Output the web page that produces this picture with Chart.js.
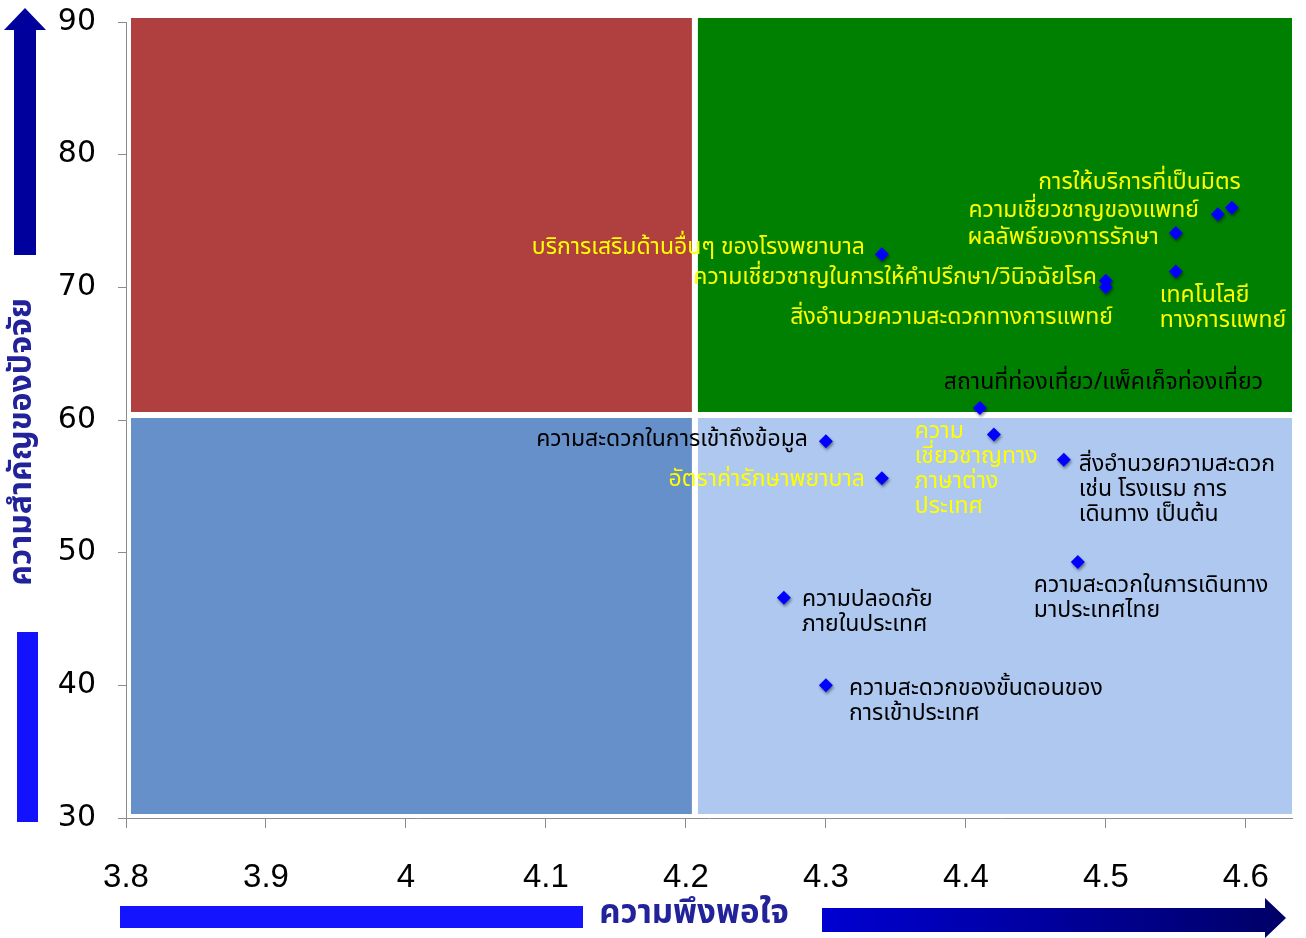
<!DOCTYPE html>
<html>
<head>
<meta charset="utf-8">
<script src="https://cdn.jsdelivr.net/npm/chart.js@4.4.0/dist/chart.umd.min.js"></script>
<style>
  html, body { margin: 0; padding: 0; background: #fff; }
  #wrap { width: 1306px; height: 938px; }
</style>
</head>
<body>
<div id="wrap"><canvas id="chart1"></canvas></div>
<script>
// ข้อมูลปัจจัย (ความพึงพอใจ x ความสำคัญ)
var factors = [
  'การให้บริการที่เป็นมิตร',
  'ความเชี่ยวชาญของแพทย์',
  'ผลลัพธ์ของการรักษา',
  'บริการเสริมด้านอื่นๆ ของโรงพยาบาล',
  'เทคโนโลยี\nทางการแพทย์',
  'ความเชี่ยวชาญในการให้คำปรึกษา/วินิจฉัยโรค',
  'สิ่งอำนวยความสะดวกทางการแพทย์',
  'สถานที่ท่องเที่ยว/แพ็คเก็จท่องเที่ยว',
  'ความ\nเชี่ยวชาญทาง\nภาษาต่าง\nประเทศ',
  'ความสะดวกในการเข้าถึงข้อมูล',
  'อัตราค่ารักษาพยาบาล',
  'สิ่งอำนวยความสะดวก\nเช่น โรงแรม การ\nเดินทาง เป็นต้น',
  'ความสะดวกในการเดินทาง\nมาประเทศไทย',
  'ความปลอดภัย\nภายในประเทศ',
  'ความสะดวกของขั้นตอนของ\nการเข้าประเทศ'
];
var satisfaction = [4.59, 4.58, 4.55, 4.34, 4.55, 4.50, 4.50, 4.41, 4.42, 4.30, 4.34, 4.47, 4.48, 4.27, 4.30];
var importance   = [76.0, 75.5, 74.1, 72.5, 71.2, 70.5, 70.0, 60.9, 58.9, 58.4, 55.6, 57.0, 49.3, 46.6, 40.0];

var xTicks = [3.8, 3.9, 4.0, 4.1, 4.2, 4.3, 4.4, 4.5, 4.6];
var yTicks = [30, 40, 50, 60, 70, 80, 90];

// เส้นแบ่งควอดแรนต์
var splitX = 4.2;
var splitY = 60;

// การวางป้ายชื่อ (สี, การจัดแนว, ระยะเลื่อนจากจุด)
var labelColor = ['#ffff00', '#ffff00', '#ffff00', '#ffff00', '#ffff00', '#ffff00', '#ffff00', '#000000',
                  '#ffff00', '#000000', '#ffff00', '#000000', '#000000', '#000000', '#000000'];
var labelAlign = ['right', 'right', 'right', 'right', 'left', 'right', 'right', 'left',
                  'left', 'right', 'right', 'left', 'left', 'left', 'left'];
var labelShift = [[9, -23], [-19, -2], [-17, 6], [-17, -5], [-16, 26], [-9, -1], [7, 32], [-36, -24],
                  [-79, -1], [-18, 0], [-17, 3], [15, 7], [-44, 25], [18, 4], [23, 5]];

var thaiFont = 'Tahoma, "Noto Sans Thai", "Noto Sans", "DejaVu Sans", sans-serif';

var points = satisfaction.map(function (v, i) { return { x: v, y: importance[i] }; });

var quadrants = {
  id: 'quadrants',
  beforeDatasetsDraw: function (chart) {
    var c = chart.ctx, a = chart.chartArea;
    var sx = chart.scales.x.getPixelForValue(splitX) + 9;
    var sy = chart.scales.y.getPixelForValue(splitY) - 5;
    c.save();
    c.fillStyle = '#b0403f';
    c.fillRect(a.left + 5, a.top - 4, sx - 3 - (a.left + 5), sy - 3 - (a.top - 4));
    c.fillStyle = '#008000';
    c.fillRect(sx + 3, a.top - 4, a.right - sx - 3, sy - 3 - (a.top - 4));
    c.fillStyle = '#6690ca';
    c.fillRect(a.left + 5, sy + 3, sx - 3 - (a.left + 5), a.bottom - 4 - sy - 3);
    c.fillStyle = '#aec8ef';
    c.fillRect(sx + 3, sy + 3, a.right - sx - 3, a.bottom - 4 - sy - 3);
    c.restore();
  },
  beforeDatasetDraw: function (chart) {
    var c = chart.ctx;
    c.save();
    c.shadowColor = 'rgba(0,0,0,0.45)';
    c.shadowBlur = 3;
    c.shadowOffsetX = 1;
    c.shadowOffsetY = 2;
  },
  afterDatasetDraw: function (chart) {
    chart.ctx.restore();
  }
};

var pointLabels = {
  id: 'pointLabels',
  afterDatasetsDraw: function (chart) {
    var c = chart.ctx;
    var meta = chart.getDatasetMeta(0);
    c.save();
    c.font = '23px ' + thaiFont;
    c.textBaseline = 'middle';
    meta.data.forEach(function (pt, i) {
      var lines = factors[i].split('\n');
      c.fillStyle = labelColor[i];
      c.textAlign = labelAlign[i];
      lines.forEach(function (ln, k) {
        c.fillText(ln, pt.x + labelShift[i][0], pt.y + labelShift[i][1] + k * 25);
      });
    });
    c.restore();
  }
};

// ลูกศรและชื่อแกน
var axisArrows = {
  id: 'axisArrows',
  afterDraw: function (chart) {
    var c = chart.ctx;
    c.save();
    // แกนตั้ง
    c.fillStyle = '#00009c';
    c.beginPath();
    c.moveTo(25, 8); c.lineTo(46, 30); c.lineTo(36, 30); c.lineTo(36, 255);
    c.lineTo(14, 255); c.lineTo(14, 30); c.lineTo(4, 30); c.closePath();
    c.fill();
    c.fillStyle = '#1212ff';
    c.fillRect(17, 632, 21, 190);
    c.translate(25, 442);
    c.rotate(-Math.PI / 2);
    c.font = 'bold 32px ' + thaiFont;
    c.fillStyle = '#22229a';
    c.textAlign = 'center';
    c.textBaseline = 'middle';
    c.fillText('ความสำคัญของปัจจัย', 0, 0);
    c.restore();

    // แกนนอน
    c.save();
    c.fillStyle = '#1414ff';
    c.fillRect(120, 906, 463, 22);
    var g = c.createLinearGradient(822, 0, 1286, 0);
    g.addColorStop(0, '#0000d2');
    g.addColorStop(1, '#000066');
    c.fillStyle = g;
    c.beginPath();
    c.moveTo(822, 908); c.lineTo(1265, 908); c.lineTo(1265, 898); c.lineTo(1286, 918);
    c.lineTo(1265, 938); c.lineTo(1265, 932); c.lineTo(822, 932); c.closePath();
    c.fill();
    c.font = 'bold 33px ' + thaiFont;
    c.fillStyle = '#22229a';
    c.textAlign = 'center';
    c.textBaseline = 'middle';
    c.fillText('ความพึงพอใจ', 694, 916);
    c.restore();
  }
};

function noOverhang(s) {
  s.paddingTop = 0;
  s.paddingBottom = 0;
  s.paddingLeft = 0;
  s.paddingRight = 0;
}

var ctx1 = document.getElementById('chart1').getContext('2d');
var chart1 = new Chart(ctx1, {
  type: 'scatter',
  data: {
    datasets: [{
      label: 'ปัจจัย',
      data: points,
      pointStyle: 'rectRot',
      pointRadius: 7,
      pointHoverRadius: 7,
      backgroundColor: '#0000ff',
      borderColor: '#0000ff',
      borderWidth: 0
    }]
  },
  options: {
    responsive: true,
    maintainAspectRatio: false,
    animation: false,
    layout: { padding: { top: 22, right: 14, left: 0, bottom: 0 } },
    plugins: {
      legend: { display: false },
      tooltip: { enabled: false }
    },
    scales: {
      x: {
        type: 'linear',
        min: 3.8,
        max: 4.633,
        afterBuildTicks: function (s) { s.ticks = xTicks.map(function (v) { return { value: v }; }); },
        afterFit: function (s) { s.height = 120; noOverhang(s); },
        ticks: {
          padding: 30,
          color: '#000',
          font: { family: '"Liberation Sans Narrow", "Liberation Sans", sans-serif', size: 33 },
          callback: function (v) { return String(Number(v.toFixed(1))); },
          maxRotation: 0
        },
        grid: { drawOnChartArea: false, tickLength: 10, color: '#8c8c8c' },
        border: { color: '#8c8c8c' }
      },
      y: {
        type: 'linear',
        min: 30,
        max: 90,
        afterBuildTicks: function (s) { s.ticks = yTicks.map(function (v) { return { value: v }; }); },
        afterFit: function (s) { s.width = 126; noOverhang(s); },
        ticks: {
          padding: 22,
          color: '#000',
          font: { family: '"DejaVu Sans", Verdana, sans-serif', size: 30 }
        },
        grid: { drawOnChartArea: false, tickLength: 8, color: '#8c8c8c' },
        border: { color: '#8c8c8c' }
      }
    }
  },
  plugins: [quadrants, pointLabels, axisArrows]
});
</script>
</body>
</html>
